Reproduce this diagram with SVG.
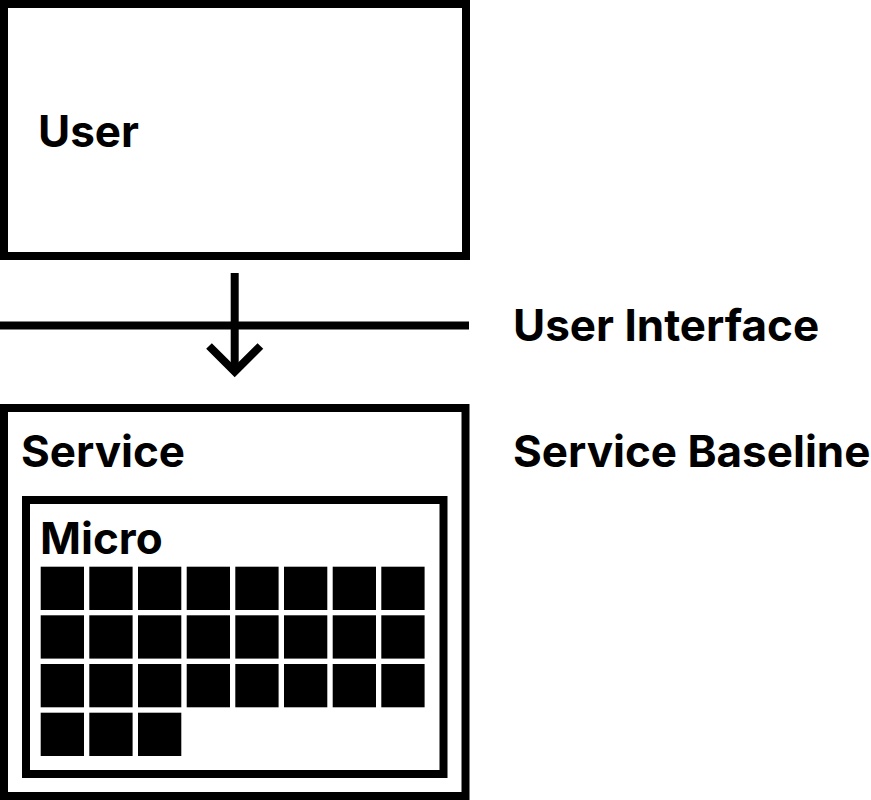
<svg xmlns="http://www.w3.org/2000/svg" width="871" height="800" viewBox="0 0 871 800">
<style>
.box{fill:#fff;stroke:#000;stroke-width:8}
.t{font-family:Inter,"Liberation Sans",sans-serif;font-weight:700;font-size:44px;fill:#000}
.ln{stroke:#000;stroke-width:8;fill:none}
.sq{fill:#000}
</style>
<rect width="871" height="800" fill="#fff"/>
<g id="user">
<rect class="box" x="4" y="4" width="462" height="252"/>
<text class="t" x="38" y="147">User</text>
</g>
<g id="user-interface">
<line class="ln" x1="0" y1="325.5" x2="469" y2="325.5"/>
<text class="t" x="513" y="341">User Interface</text>
</g>
<g id="service-baseline">
<text class="t" x="513" y="467">Service Baseline</text>
</g>
<g id="connectors">
<line class="ln" x1="234.7" y1="273" x2="234.7" y2="370"/>
<polyline class="ln" points="209,346 234.7,371.7 260.4,346"/>
</g>
<g id="service">
<rect class="box" x="4" y="408" width="461.5" height="388"/>
<text class="t" x="21" y="467">Service</text>
</g>
<g id="micro">
<rect class="box" x="26" y="500" width="417.5" height="274"/>
<text class="t" x="40" y="554">Micro</text>
<g class="sq">
<rect x="40.7" y="566.7" width="43.3" height="43.3"/>
<rect x="89.3" y="566.7" width="43.3" height="43.3"/>
<rect x="138" y="566.7" width="43.3" height="43.3"/>
<rect x="186.7" y="566.7" width="43.3" height="43.3"/>
<rect x="235.3" y="566.7" width="43.3" height="43.3"/>
<rect x="284" y="566.7" width="43.3" height="43.3"/>
<rect x="332.7" y="566.7" width="43.3" height="43.3"/>
<rect x="381.3" y="566.7" width="43.3" height="43.3"/>
<rect x="40.7" y="615.3" width="43.3" height="43.3"/>
<rect x="89.3" y="615.3" width="43.3" height="43.3"/>
<rect x="138" y="615.3" width="43.3" height="43.3"/>
<rect x="186.7" y="615.3" width="43.3" height="43.3"/>
<rect x="235.3" y="615.3" width="43.3" height="43.3"/>
<rect x="284" y="615.3" width="43.3" height="43.3"/>
<rect x="332.7" y="615.3" width="43.3" height="43.3"/>
<rect x="381.3" y="615.3" width="43.3" height="43.3"/>
<rect x="40.7" y="664" width="43.3" height="43.3"/>
<rect x="89.3" y="664" width="43.3" height="43.3"/>
<rect x="138" y="664" width="43.3" height="43.3"/>
<rect x="186.7" y="664" width="43.3" height="43.3"/>
<rect x="235.3" y="664" width="43.3" height="43.3"/>
<rect x="284" y="664" width="43.3" height="43.3"/>
<rect x="332.7" y="664" width="43.3" height="43.3"/>
<rect x="381.3" y="664" width="43.3" height="43.3"/>
<rect x="40.7" y="712.7" width="43.3" height="43.3"/>
<rect x="89.3" y="712.7" width="43.3" height="43.3"/>
<rect x="138" y="712.7" width="43.3" height="43.3"/>
</g>
</g>
</svg>
